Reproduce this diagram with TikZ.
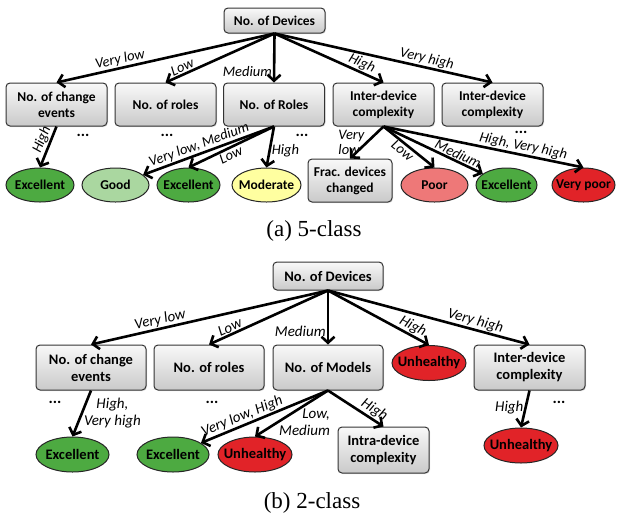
\documentclass[tikz,border=0pt]{standalone}
\usepackage{fontspec}
\setmainfont{Carlito}
\newfontfamily\capfont{Liberation Serif}
\usetikzlibrary{shapes.geometric, arrows.meta, shadows}

\definecolor{excellent}{RGB}{77,170,65}
\definecolor{good}{RGB}{170,215,160}
\definecolor{moderate}{RGB}{255,255,160}
\definecolor{poor}{RGB}{238,120,120}
\definecolor{verypoor}{RGB}{225,35,40}

\tikzset{
  box/.style={draw=black!80, line width=1pt, rounded corners=4pt, top color=gray!5, bottom color=gray!42,
    align=center, inner sep=1pt, font=\boxfont, drop shadow={opacity=0.25, shadow xshift=1pt, shadow yshift=-1pt}},
  leaf/.style={ellipse, draw=black!85, line width=1pt, fill=#1, inner xsep=-6pt, inner ysep=0pt, font=\boxfont},
  lab/.style={font=\labfont, inner sep=1pt},
  dots/.style={font=\bfseries\fontsize{16}{16}\selectfont, inner sep=0pt},
  link/.style={->, line width=2.6pt}
}

\begin{document}
\begin{tikzpicture}[x=1pt, y=-1pt, >={Straight Barb[length=6pt, width=13pt]}]
  \useasboundingbox (0,0) rectangle (618,515);
  % (a) 5-class
  \def\boxfont{\bfseries\fontsize{13.5}{16}\selectfont}
  \def\labfont{\itshape\fontsize{14.5}{15}\selectfont}
  \node[box, minimum width=101pt, minimum height=25pt] (devA) at (274.5,20.5) {No. of Devices};
  \node[box, minimum width=101pt, minimum height=43pt] (ceA) at (56.5,104.5) {No. of change\\events};
  \node[box, minimum width=101pt, minimum height=43pt] (rolesA) at (165.5,104.5) {No. of roles};
  \node[box, minimum width=101pt, minimum height=43pt] (RolesA) at (274,104.5) {No. of Roles};
  \node[box, minimum width=101pt, minimum height=43pt] (interA) at (383.5,104.5) {Inter-device\\complexity};
  \node[box, minimum width=101pt, minimum height=43pt] (interAA) at (492.5,104.5) {Inter-device\\complexity};
  \node[leaf=excellent, minimum width=68pt, minimum height=34pt] (exA) at (40,185) {Excellent};
  \node[leaf=good, minimum width=67pt, minimum height=34pt] (goodA) at (115.5,185) {Good};
  \node[leaf=excellent, minimum width=63pt, minimum height=34pt] (exAA) at (188.5,185) {Excellent};
  \node[leaf=moderate, minimum width=69pt, minimum height=34pt] (modA) at (266.5,185) {Moderate};
  \node[box, minimum width=84pt, minimum height=43pt] (fracA) at (350,180.5) {Frac. devices\\changed};
  \node[leaf=poor, minimum width=67pt, minimum height=34pt] (poorA) at (434.5,185) {Poor};
  \node[leaf=excellent, minimum width=61pt, minimum height=34pt] (exAAA) at (506.5,185) {Excellent};
  \node[leaf=verypoor, minimum width=63pt, minimum height=34pt] (vpA) at (583.5,185) {Very poor};
  \node[dots] (d1A) at (83,135) {...};
  \node[dots] (d2A) at (167,135) {...};
  \node[dots] (d3A) at (302,135) {...};
  \node[dots] (d4A) at (521,132) {...};
  \draw[link] (devA.south) -- node[lab, sloped, above, pos=0.7] {Very low} (ceA.north);
  \draw[link] (devA.south) -- node[lab, sloped, above, pos=0.82] {Low} (rolesA.north);
  \draw[link] (devA.south) -- node[lab, left, pos=0.78] {Medium} (RolesA.north);
  \draw[link] (devA.south) -- node[lab, sloped, above, pos=0.77] {High} (interA.north);
  \draw[link] (devA.south) -- node[lab, sloped, above, pos=0.69] {Very high} (interAA.north);
  \draw[link] (ceA.south) -- node[lab, sloped, above, pos=0.4] {High} (exA.north);
  \draw[link] (RolesA.south) -- node[lab, sloped, above, pos=0.55] {Very low, Medium} (goodA);
  \draw[link] (RolesA.south) -- node[lab, sloped, below, pos=0.54] {Low} (exAA.north);
  \draw[link] (RolesA.south) -- node[lab, right, pos=0.6] {High} (modA.north);
  \draw[link] (interA.south) -- node[lab, left, align=left, pos=0.5] {Very\\low} (fracA.north);
  \draw[link] (interA.south) -- node[lab, sloped, below, pos=0.46] {Low} (poorA.north);
  \draw[link] (interA.south) -- node[lab, sloped, above, pos=0.72] {Medium} (exAAA);
  \draw[link] (interA.south) -- node[lab, sloped, above=0pt, pos=0.69] {High, Very high} (vpA.north);
  \node[font=\capfont\fontsize{23}{26}\selectfont] (capA) at (314,231) {(a) 5-class};
  % (b) 2-class
  \def\boxfont{\bfseries\fontsize{14.5}{17}\selectfont}
  \def\labfont{\itshape\fontsize{15}{17}\selectfont}
  \node[box, minimum width=110pt, minimum height=28pt] (devB) at (328,276) {No. of Devices};
  \node[box, minimum width=110pt, minimum height=45pt] (ceB) at (91,367.5) {No. of change\\events};
  \node[box, minimum width=110pt, minimum height=45pt] (rolesB) at (209,367.5) {No. of roles};
  \node[box, minimum width=110pt, minimum height=45pt] (modelsB) at (328,367.5) {No. of Models};
  \node[leaf=verypoor, minimum width=74pt, minimum height=35pt] (unhB) at (429,363) {Unhealthy};
  \node[box, minimum width=111pt, minimum height=45pt] (interB) at (529.5,367.5) {Inter-device\\complexity};
  \node[leaf=excellent, minimum width=73pt, minimum height=35pt] (exB) at (72.5,454.5) {Excellent};
  \node[leaf=excellent, minimum width=72pt, minimum height=35pt] (exBB) at (173,454.5) {Excellent};
  \node[leaf=verypoor, minimum width=74pt, minimum height=35pt] (unhBB) at (255,454.5) {Unhealthy};
  \node[box, minimum width=91pt, minimum height=46pt] (intraB) at (383.5,450) {Intra-device\\complexity};
  \node[leaf=verypoor, minimum width=74pt, minimum height=35pt] (unhBBB) at (521,445.5) {Unhealthy};
  \node[dots] (d1B) at (55,402) {...};
  \node[dots] (d2B) at (212,402) {...};
  \node[dots] (d3B) at (559,402) {...};
  \draw[link] (devB.south) -- node[lab, sloped, above, pos=0.7] {Very low} (ceB.north);
  \draw[link] (devB.south) -- node[lab, sloped, above, pos=0.8] {Low} (rolesB.north);
  \draw[link] (devB.south) -- node[lab, left, pos=0.76] {Medium} (modelsB.north);
  \draw[link] (devB.south) -- node[lab, sloped, above, pos=0.8] {High} (unhB.north);
  \draw[link] (devB.south) -- node[lab, sloped, above, pos=0.72] {Very high} (interB.north);
  \draw[link] (ceB.south) -- node[lab, right, align=center, pos=0.5] {High,\\Very high} (exB.north);
  \draw[link] (modelsB.south) -- node[lab, sloped, above, pos=0.65] {Very low, High} (exBB);
  \draw[link] (modelsB.south) -- node[lab, right, align=right, pos=0.7] {Low,\\Medium} (unhBB.north);
  \draw[link] (modelsB.south) -- node[lab, sloped, above, pos=0.75] {High} (intraB.north);
  \draw[link] (interB.south) -- node[lab, left, pos=0.45] {High} (unhBBB.north);
  \node[font=\capfont\fontsize{23}{26}\selectfont] (capB) at (312,503) {(b) 2-class};
\end{tikzpicture}
\end{document}
